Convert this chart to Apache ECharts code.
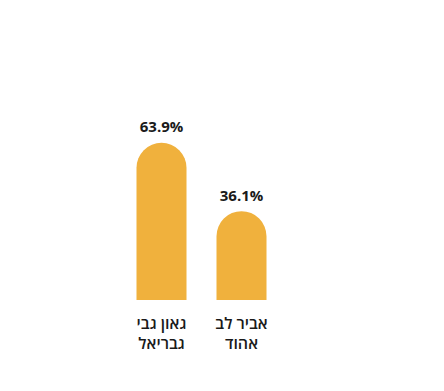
<!DOCTYPE html>
<html><head><meta charset="utf-8">
<script src="https://cdn.jsdelivr.net/npm/echarts@6/dist/echarts.min.js"></script>
<style>html,body{margin:0;padding:0;background:#fff}#c{width:444px;height:391px}</style>
</head><body><div id="c"></div>
<script>
const categories = ['גאון גבי\nגבריאל', 'אביר לב\nאהוד'];
const values = [63.9, 36.1];
const chart = echarts.init(document.getElementById('c'), null, {renderer:'svg'});
chart.setOption({
  animation:false,
  grid:{left:121.5,right:162.5,top:54,bottom:91},
  xAxis:{type:'category',data:categories,axisLine:{show:false},axisTick:{show:false},
    axisLabel:{color:'#1a1a1a',fontSize:16,fontWeight:600,fontFamily:'Open Sans',lineHeight:20,margin:13,interval:0}},
  yAxis:{type:'value',min:0,max:100,show:false,splitLine:{show:false}},
  series:[{type:'bar',data:values,barWidth:50,
    itemStyle:{color:'#F0B13D',borderRadius:[25,25,0,0]},
    label:{show:true,position:'top',distance:9,formatter:p=>p.value.toFixed(1)+'%',
      color:'#1a1a1a',fontSize:15,fontWeight:'bold',fontFamily:'Open Sans'}}]
});
</script></body></html>
